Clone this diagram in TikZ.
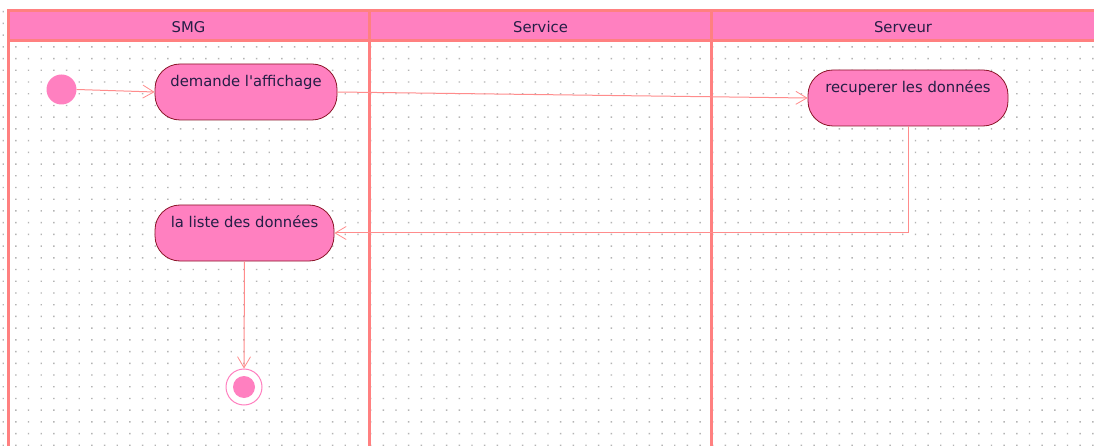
\documentclass[tikz,border=0pt]{standalone}
\usepackage{fontspec}
\newfontfamily\dvs{DejaVu Sans}
\usetikzlibrary{arrows.meta}
\definecolor{lanec}{RGB}{255,128,128}
\definecolor{actf}{RGB}{255,128,192}
\definecolor{actb}{RGB}{140,20,40}
\definecolor{connc}{RGB}{255,140,140}
\definecolor{txtc}{RGB}{36,30,70}
\definecolor{dotc}{RGB}{180,180,180}
\tikzset{
  lane/.style={draw=lanec, line width=3pt},
  act/.style={rectangle, rounded corners=25pt, draw=actb, fill=actf, line width=0.8pt,
    font=\dvs\fontsize{14.8}{17}\selectfont, text=txtc, inner xsep=0pt, inner ysep=0pt,
    text height=23pt, text depth=33pt, minimum height=56pt},
  hdr/.style={font=\dvs\fontsize{14.8}{17}\selectfont, text=txtc, anchor=base, inner sep=0pt},
  conn/.style={draw=connc, line width=1pt,
    -{Straight Barb[length=11pt, width=13pt, line width=0.8pt]}},
}
\begin{document}
\begin{tikzpicture}[x=1pt, y=-1pt]
\useasboundingbox (0,0) rectangle (1094,446);
\fill[white] (0,0) rectangle (1094,446);
% grid dots
\fill[dotc] \foreach \i in {0,...,86} { \foreach \j in {0,...,37} {
  ({3.2+\i*12.67-0.7},{11.7+\j*11.72-0.7}) rectangle ++(1.4,1.4) } };
% header
\fill[actf] (8,11) rectangle (1094,40.5);
\draw[lane] (8.3,11) -- (1094,11);
\draw[lane] (8.3,40.7) -- (1094,40.7);
\draw[lane] (8.3,9.5) -- (8.3,446);
\draw[lane, line width=3.6pt] (369.5,9.5) -- (369.5,446);
\draw[lane, line width=3.6pt] (711.5,9.5) -- (711.5,446);
\node[hdr] (h1) at (188.5,33) {SMG};
\node[hdr] (h2) at (540.5,33) {Service};
\node[hdr] (h3) at (903,33) {Serveur};
% nodes
\node[circle, fill=actf, minimum size=30pt, inner sep=0pt] (init) at (61.5,89.5) {};
\node[act, minimum width=182pt] (dem) at (246,92) {demande l'affichage};
\node[act, minimum width=200pt] (rec) at (908,98) {recuperer les données};
\node[act, minimum width=179pt] (lst) at (244.5,233) {la liste des données};
\node[circle, draw=actf, fill=white, line width=1pt, minimum size=36pt, inner sep=0pt] (fin) at (244,387) {};
\node[circle, fill=actf, minimum size=22pt, inner sep=0pt] (finin) at (fin) {};
% connectors
\draw[conn] (init.east) -- (dem.west);
\draw[conn] (dem.east) -- (rec.west);
\draw[conn] (rec.south) |- (lst.east);
\draw[conn] (lst.south) -- (fin.north);
\end{tikzpicture}
\end{document}
